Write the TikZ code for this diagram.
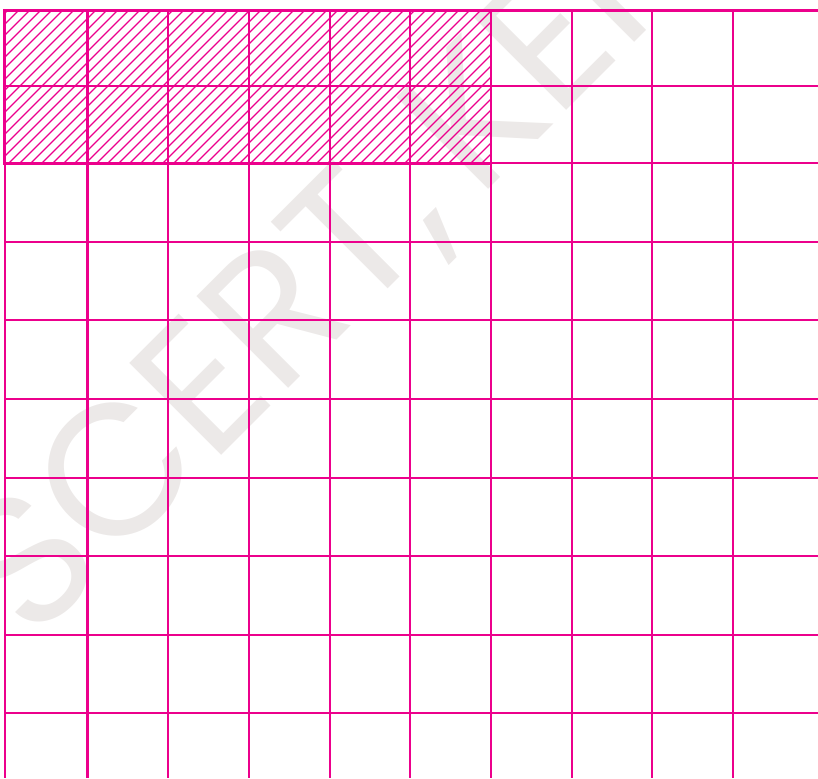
\documentclass[tikz,border=0pt]{standalone}
\usepackage{fontspec}
\usepackage{xcolor}
\usepackage{tikz}
\newfontfamily\markfont{Poppins}

\begin{document}
\begin{tikzpicture}[x=0.02cm, y=-0.02cm,
    gridline/.style={gridcolor, line width=1.15pt},
    hatchline/.style={gridcolor, line width=0.7pt},
    blockline/.style={gridcolor, line width=1.7pt}]
    % Define colors
    \definecolor{gridcolor}{RGB}{236,0,140}
    \definecolor{markcolor}{RGB}{236,233,232}

    % Page frame
    \useasboundingbox (0,0) rectangle (818,778);
    \clip (0,0) rectangle (818,778);

    % Watermark behind the grid
    \node[font=\markfont\fontsize{106}{106}\selectfont, markcolor, rotate=45,
          anchor=base west, inner sep=0pt] (mark) at (32,645) {SCERT,\hspace{-0.1em} KERALA};

    % Hatching of the shaded block
    \begin{scope}
        \clip (4.7,10.5) rectangle (491,163.3);
        \foreach \s in {-1,...,58}
            \draw[hatchline] (29+11*\s-170,170) -- (29+11*\s,0);
    \end{scope}

    % Vertical lines
    \foreach \x in {4.7, 87.5, 168.2, 248.9, 329.6, 410.3, 491, 571.7, 652.4, 733.1}
        \draw[gridline] (\x,10.5) -- (\x,778);

    % Horizontal lines
    \foreach \y in {10.5, 86, 163.3, 241.9, 320.4, 399, 477.6, 556.2, 634.7, 713.3}
        \draw[gridline] (4.7,\y) -- (818,\y);

    % Border of the shaded block
    \draw[blockline] (4.7,10.5) rectangle (491,163.3);
\end{tikzpicture}
\end{document}
